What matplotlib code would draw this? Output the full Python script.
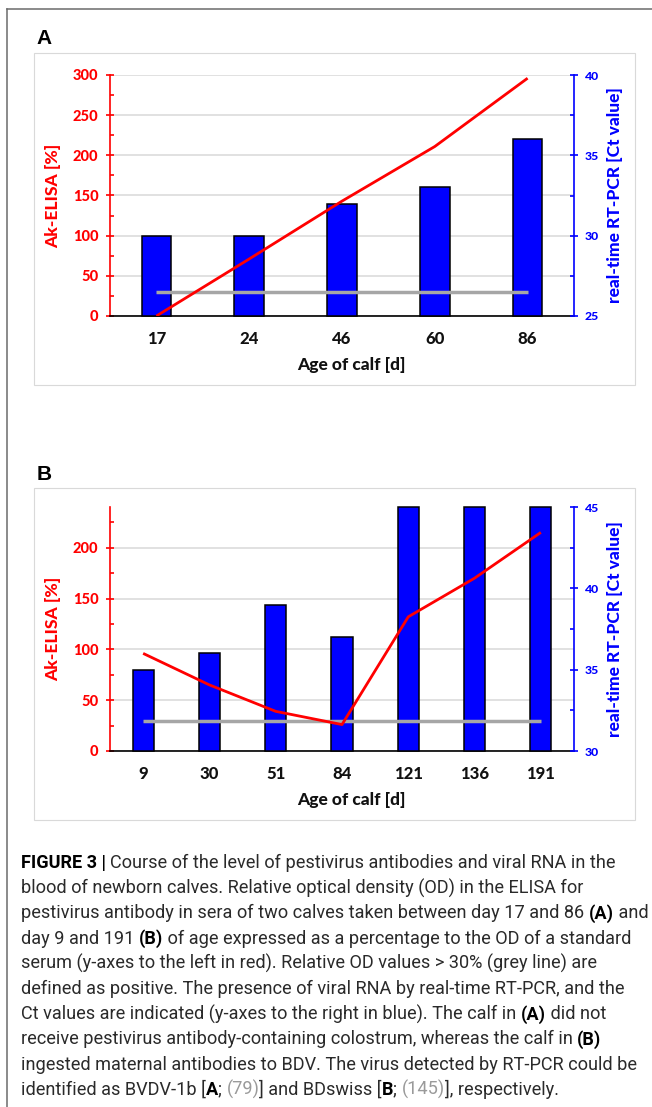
import matplotlib
matplotlib.use("Agg")
import matplotlib.pyplot as plt
from matplotlib.ticker import MultipleLocator, AutoMinorLocator
from matplotlib.patches import Rectangle
from matplotlib.lines import Line2D
from matplotlib.font_manager import FontProperties
import numpy as np

# ---------------- data ----------------
days_a = ["17", "24", "46", "60", "86"]
elisa_a = [0, 71, 143, 211, 296]          # Ak-ELISA [%]
ct_a = [30, 30, 32, 33, 36]               # Ct value

days_b = ["9", "30", "51", "84", "121", "136", "191"]
elisa_b = [96, 65, 39, 26, 132, 170, 215]
ct_b = [35, 36, 39, 37, 45, 45, 45]

cutoff = 30                               # positive threshold (%)

left_label = "Ak-ELISA [%]"
right_label = "real-time RT-PCR [Ct value]"
x_label = "Age of calf [d]"

caption_lines = [
    [("FIGURE 3 | ", "b"), ("Course of the level of pestivirus antibodies and viral RNA in the", "n")],
    [("blood of newborn calves. Relative optical density (OD) in the ELISA for", "n")],
    [("pestivirus antibody in sera of two calves taken between day 17 and 86 ", "n"), ("(A)", "b"), (" and", "n")],
    [("day 9 and 191 ", "n"), ("(B)", "b"), (" of age expressed as a percentage to the OD of a standard", "n")],
    [("serum (y-axes to the left in red). Relative OD values > 30% (grey line) are", "n")],
    [("defined as positive. The presence of viral RNA by real-time RT-PCR, and the", "n")],
    [("Ct values are indicated (y-axes to the right in blue). The calf in ", "n"), ("(A)", "b"), (" did not", "n")],
    [("receive pestivirus antibody-containing colostrum, whereas the calf in ", "n"), ("(B)", "b")],
    [("ingested maternal antibodies to BDV. The virus detected by RT-PCR could be", "n")],
    [("identified as BVDV-1b [", "n"), ("A", "b"), ("; ", "n"), ("(79)", "g"), ("] and BDswiss [", "n"),
     ("B", "b"), ("; ", "n"), ("(145)", "g"), ("], respectively.", "n")],
]

FONT = "Lato"
plt.rcParams["font.family"] = [FONT, "DejaVu Sans"]
plt.rcParams["font.weight"] = "bold"
TICK_W = "black"
LABEL_W = "black"

# ---------------- layout ----------------
W, H = 652, 1107
fig = plt.figure(figsize=(W / 100, H / 100), dpi=100)
fig.patch.set_facecolor("white")

def fx(px):
    return px / W

def fy(py):
    return 1 - py / H

RED = "#FF0000"
BLUE = "#0000FF"
GRID = "#D9D9D9"
GREY = "#A6A6A6"

# outer frame
fig.add_artist(Line2D([fx(7), fx(7)], [fy(8.5), 0], transform=fig.transFigure, color="#6b6b6b", lw=1.1))
fig.add_artist(Line2D([fx(7), 1.0], [fy(8.5), fy(8.5)], transform=fig.transFigure, color="#6b6b6b", lw=1.1))


def panel(letter, cats, elisa, ct, ylim_l, ylim_r, box, ax_box):
    bx0, by0, bx1, by1 = box
    fig.add_artist(Rectangle((fx(bx0), fy(by1)), fx(bx1) - fx(bx0), fy(by0) - fy(by1),
                             transform=fig.transFigure, fill=False, ec=GRID, lw=0.8))
    fig.text(fx(44), fy(by0 - 14), letter, fontsize=15, fontweight="bold",
             family=["Liberation Sans", "DejaVu Sans"], ha="center", va="center")

    l, r, t, b = ax_box
    rect = [fx(l), fy(b), fx(r) - fx(l), fy(t) - fy(b)]
    ax = fig.add_axes(rect)
    n = len(cats)
    x = np.arange(n)
    ax.set_xlim(-0.5, n - 0.5)
    ax.set_ylim(*ylim_l)
    ax.yaxis.set_major_locator(MultipleLocator(50))
    ax.yaxis.set_minor_locator(AutoMinorLocator(2))
    ax.grid(axis="y", which="major", color=GRID, lw=1.1)
    ax.set_axisbelow(True)
    for s in ("top", "right"):
        ax.spines[s].set_visible(False)
    ax.spines["left"].set_color(RED)
    ax.spines["left"].set_linewidth(1.2)
    ax.spines["bottom"].set_color("black")
    ax.spines["bottom"].set_linewidth(1.2)
    ax.tick_params(axis="y", which="major", direction="inout", length=5.8, width=1.2, color=RED,
                   labelcolor=RED, labelsize=10.5, pad=5.5)
    ax.tick_params(axis="y", which="minor", direction="in", length=2.9, width=1.2, color=RED)
    ax.set_xticks(x)
    ax.set_xticklabels(cats, fontweight=TICK_W)
    ax.tick_params(axis="x", length=0, labelsize=12, pad=11, labelcolor="#111111")

    # bars on right (Ct) axis
    ax2 = ax.twinx()
    ax2.set_ylim(*ylim_r)
    base = ylim_r[0]
    ax2.bar(x, np.array(ct) - base, bottom=base, width=0.32, color=BLUE, edgecolor="black",
            lw=1.1, clip_on=False, zorder=2)
    ax2.yaxis.set_major_locator(MultipleLocator(5))
    ax2.yaxis.set_minor_locator(AutoMinorLocator(2))
    for s in ("top", "left", "bottom"):
        ax2.spines[s].set_visible(False)
    ax2.spines["right"].set_color(BLUE)
    ax2.spines["right"].set_linewidth(1.2)
    ax2.tick_params(axis="y", which="major", direction="inout", length=5.8, width=1.2, color=BLUE,
                    labelcolor=BLUE, labelsize=8.8, pad=5)
    ax2.tick_params(axis="y", which="minor", direction="in", length=2.9, width=1.2, color=BLUE)

    ax.set_yticks(ax.get_yticks())
    ax.set_yticklabels([f"{v:g}" for v in ax.get_yticks()], fontweight=TICK_W)
    ax.set_ylim(*ylim_l)
    ax2.set_yticks(ax2.get_yticks())
    ax2.set_yticklabels([f"{v:g}" for v in ax2.get_yticks()], fontweight=TICK_W)
    ax2.set_ylim(*ylim_r)

    # lines on top, left scale
    ax3 = ax.twinx()
    ax3.set_ylim(*ylim_l)
    ax3.set_xlim(-0.5, n - 0.5)
    ax3.axis("off")
    ax3.plot([x[0], x[-1]], [cutoff, cutoff], color=GREY, lw=2.5, solid_capstyle="butt")
    ax3.plot(x, elisa, color=RED, lw=2.0, solid_capstyle="butt")

    cy = (t + b) / 2
    fig.text(fx(53), fy(cy), left_label, rotation=90, color=RED, fontsize=12.5, fontweight=LABEL_W,
             ha="center", va="center")
    fig.text(fx(615), fy(cy), right_label, rotation=90, color=BLUE, fontsize=12.5, fontweight=LABEL_W,
             ha="center", va="center")
    fig.text(fx(351), fy(b + 49), x_label, color="#111111", fontsize=12.5, fontweight=LABEL_W,
             ha="center", va="center")


panel("A", days_a, elisa_a, ct_a, (0, 300), (25, 40), (34, 53, 635, 385), (110, 574, 75, 316))
panel("B", days_b, elisa_b, ct_b, (0, 240), (30, 45), (34, 488, 635, 820), (110, 574, 507, 751))

# ---------------- caption ----------------
renderer = fig.canvas.get_renderer()
CAP_FONT = "Roboto"
styles = {
    "n": dict(weight="normal", color="#2a2a2a"),
    "b": dict(weight="bold", color="#000000"),
    "g": dict(weight="normal", color="#9a9a9a"),
}

def seg_width(text, size, st):
    fp = FontProperties(family=CAP_FONT, weight=styles[st]["weight"], size=size)
    w1, _, _ = renderer.get_text_width_height_descent("|" + text + "|", fp, ismath=False)
    w0, _, _ = renderer.get_text_width_height_descent("||", fp, ismath=False)
    return w1 - w0

def line_width(line, size):
    return sum(seg_width(t, size, st) for t, st in line)

base_size = 12.0
target = 646 - 21
size = base_size * target / line_width(caption_lines[2], base_size)

y0, dy = 863, 25.2
for i, line in enumerate(caption_lines):
    xp = 21.0
    yp = y0 + i * dy
    for text, st in line:
        fig.text(fx(xp), fy(yp), text, fontsize=size, family=CAP_FONT,
                 fontweight=styles[st]["weight"], color=styles[st]["color"],
                 ha="left", va="center")
        xp += seg_width(text, size, st)

fig.savefig("out.png", dpi=100)
